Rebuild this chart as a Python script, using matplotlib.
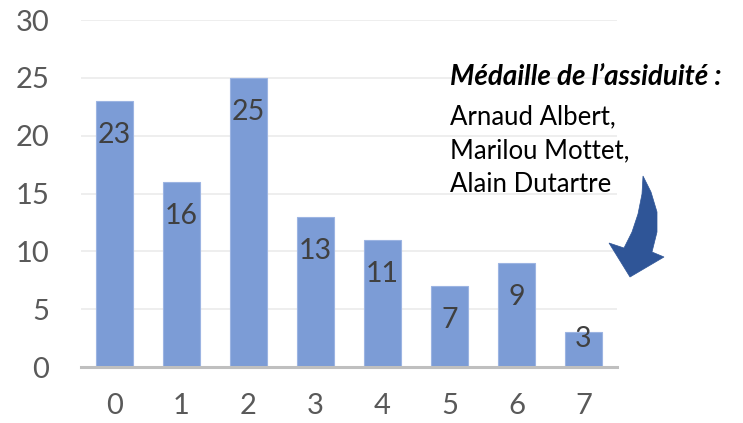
import matplotlib

matplotlib.use("Agg")

import matplotlib.pyplot as plt
import numpy as np
from matplotlib.patches import PathPatch
from matplotlib.path import Path

# data
categories = [0, 1, 2, 3, 4, 5, 6, 7]
values = [23, 16, 25, 13, 11, 7, 9, 3]
y_ticks = [0, 5, 10, 15, 20, 25, 30]

title_note = "Médaille de l’assiduité :"
names_note = ["Arnaud Albert,", "Marilou Mottet,", "Alain Dutartre"]

W, H = 743, 423
plt.rcParams["font.family"] = ["Lato", "DejaVu Sans"]

fig = plt.figure(figsize=(W / 100, H / 100), dpi=100)
ax = fig.add_axes([81 / W, (H - 367) / H, (617 - 81) / W, (367 - 20) / H])

x = np.arange(len(categories))
ax.bar(
    x,
    values,
    width=0.55,
    color="#7C9CD6",
    edgecolor="#9CB4E2",
    linewidth=0.8,
    zorder=2,
)

for xi, v in zip(x, values):
    ypos = v - 2.95 if v - 2.95 > 2.5 else v - 0.55
    ax.text(
        xi,
        ypos,
        str(v),
        ha="center",
        va="center",
        fontsize=20.5,
        color="#404040",
        zorder=3,
    )

ax.set_xlim(-0.5, len(categories) - 0.5)
ax.set_ylim(0, 30)
ax.set_yticks(y_ticks)
ax.set_xticks(x)
ax.set_xticklabels([str(c) for c in categories])

ax.grid(axis="y", color="#EBEBEB", linewidth=1.2, zorder=0)
ax.set_axisbelow(True)

for side in ["left", "right", "top"]:
    ax.spines[side].set_visible(False)
ax.spines["bottom"].set_color("#BFBFBF")
ax.spines["bottom"].set_linewidth(2.2)
ax.spines["bottom"].set_zorder(4)

ax.tick_params(axis="both", length=0, labelsize=21, labelcolor="#595959")
ax.tick_params(axis="y", pad=23)
ax.tick_params(axis="x", pad=19)


def px(xp, yp):
    return xp / W, 1 - yp / H


# annotation text
fig.text(
    *px(450, 85),
    title_note,
    fontsize=20,
    fontweight="bold",
    fontstyle="italic",
    color="black",
    va="baseline",
    ha="left",
)
for i, line in enumerate(names_note):
    fig.text(
        *px(450, 124 + i * 34),
        line,
        fontsize=18.5,
        color="black",
        va="baseline",
        ha="left",
    )

# curved block arrow
arrow_pts = [
    (643, 176),
    (651, 192),
    (657, 212),
    (657, 232),
    (652, 252),
    (664, 257),
    (630, 277),
    (609, 243),
    (624, 248),
    (632, 232),
    (638, 214),
    (642, 194),
    (643, 176),
]
verts = [px(a, b) for a, b in arrow_pts]
codes = [Path.MOVETO] + [Path.LINETO] * (len(verts) - 2) + [Path.CLOSEPOLY]
fig.patches.append(
    PathPatch(
        Path(verts, codes),
        transform=fig.transFigure,
        facecolor="#2F5597",
        edgecolor="#2F5597",
        linewidth=0.5,
    )
)

fig.savefig("out.png", dpi=100)
